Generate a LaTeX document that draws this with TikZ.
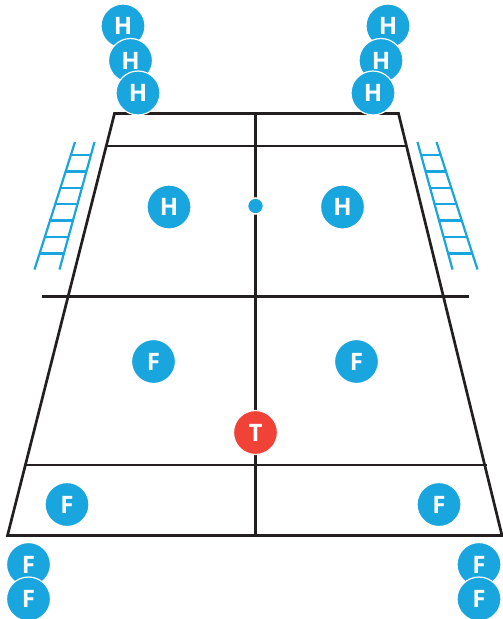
\documentclass[tikz,border=0pt]{standalone}
\usepackage{fontspec}
\setmainfont{Open Sans}
\usepackage{tikz}
\usetikzlibrary{positioning,calc}

\definecolor{playerblue}{HTML}{19A5DE}
\definecolor{playerred}{HTML}{F04237}
\definecolor{courtline}{HTML}{231F20}

\begin{document}
\begin{tikzpicture}[x=1pt,y=-1pt,
court/.style={draw=courtline,line width=2.7pt},
rail/.style={draw=playerblue,line width=2.2pt},
player/.style={draw=white,line width=1.2pt,circle,fill=playerblue,text=white,inner sep=0pt,minimum size=44pt,font=\bfseries\fontsize{24}{24}\selectfont},
taker/.style={player,fill=playerred},
referee/.style={draw=white,line width=1.5pt,circle,fill=playerblue,inner sep=0pt,minimum size=16pt}]

\useasboundingbox (0,0) rectangle (503,619);

\coordinate (tl) at (114.5,113.5);
\coordinate (tr) at (398.5,113.5);
\coordinate (br) at (502,535.5);
\coordinate (bl) at (7.5,535.5);
\coordinate (tm) at (255.5,113.5);
\coordinate (bm) at (255.5,535.5);
\coordinate (al) at (107,146);
\coordinate (ar) at (406,146);
\coordinate (ml) at (42,296.5);
\coordinate (mr) at (468.5,296.5);
\coordinate (fl) at (25.5,465);
\coordinate (fr) at (486.5,465);

\draw[court,line join=miter] (tl)--(tr)--(br)--(bl)--cycle;
\draw[court] (al)--(ar);
\draw[court] (ml)--(mr);
\draw[court] (fl)--(fr);
\draw[court] (tm)--(bm);

% ladders
\coordinate (la) at (75,142);
\coordinate (lb) at (34.5,269.5);
\coordinate (lc) at (94.5,142);
\coordinate (ld) at (59.5,269.5);
\coordinate (ra) at (417.5,142);
\coordinate (rb) at (452.5,269.5);
\coordinate (rc) at (436.5,142);
\coordinate (rd) at (477.5,269.5);

\draw[rail] (la)--(lb);
\draw[rail] (lc)--(ld);
\draw[rail] (ra)--(rb);
\draw[rail] (rc)--(rd);
\foreach \t in {0.102,0.231,0.36,0.489,0.616,0.746,0.875} {
  \draw[rail] ($(la)!\t!(lb)$)--($(lc)!\t!(ld)$);
  \draw[rail] ($(ra)!\t!(rb)$)--($(rc)!\t!(rd)$);
}

\node[player] (h1) at (123,26) {H};
\node[player] (h2) at (130.5,60.5) {H};
\node[player] (h3) at (138,93) {H};
\node[player] (h4) at (388,26) {H};
\node[player] (h5) at (381,60.5) {H};
\node[player] (h6) at (373,93) {H};
\node[player] (h7) at (169,207) {H};
\node[player] (h8) at (342.5,207) {H};
\node[referee] (dot) at (255.5,206) {};

\node[player] (f1) at (153.5,361.5) {F};
\node[player] (f2) at (356.5,361.5) {F};
\node[player] (f3) at (67,504.5) {F};
\node[player] (f4) at (439,504.5) {F};
\node[player] (f5) at (28.5,564.5) {F};
\node[player] (f6) at (28.5,599) {F};
\node[player] (f7) at (479,564.5) {F};
\node[player] (f8) at (479,599) {F};

\node[taker] (t) at (255.5,432.5) {T};

\end{tikzpicture}
\end{document}
